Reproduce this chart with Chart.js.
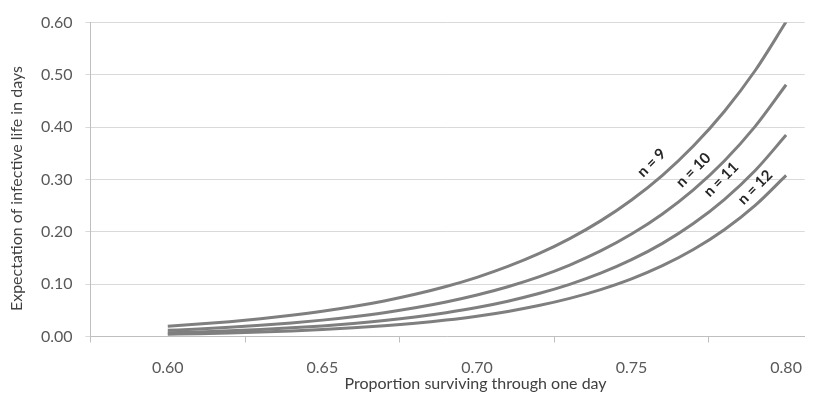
<!DOCTYPE html>
<html>
<head>
<meta charset="utf-8">
<script src="https://cdn.jsdelivr.net/npm/chart.js@4"></script>
<style>
  html, body { margin: 0; padding: 0; background: #fff; }
  #wrap { width: 818px; height: 400px; }
</style>
</head>
<body>
<div id="wrap"><canvas id="lifeChart" width="818" height="400"></canvas></div>
<script>
// proporcion que sobrevive un dia (eje X)
var survival = [0.60, 0.61, 0.62, 0.63, 0.64, 0.65, 0.66, 0.67, 0.68, 0.69, 0.70,
                0.71, 0.72, 0.73, 0.74, 0.75, 0.76, 0.77, 0.78, 0.79, 0.80];
// esperanza de vida infectiva (dias), una serie por n
var lifeN9  = [0.0197, 0.0237, 0.0283, 0.0338, 0.0404, 0.0481, 0.0572, 0.0679, 0.0806, 0.0955, 0.1131,
               0.1339, 0.1583, 0.1871, 0.2210, 0.2610, 0.3082, 0.3641, 0.4301, 0.5084, 0.6015];
var lifeN10 = [0.0118, 0.0144, 0.0176, 0.0213, 0.0258, 0.0313, 0.0378, 0.0455, 0.0548, 0.0659, 0.0792,
               0.0951, 0.1140, 0.1366, 0.1635, 0.1958, 0.2343, 0.2803, 0.3355, 0.4017, 0.4812];
var lifeN11 = [0.0071, 0.0088, 0.0109, 0.0134, 0.0165, 0.0203, 0.0249, 0.0305, 0.0373, 0.0455, 0.0554,
               0.0675, 0.0821, 0.0997, 0.1210, 0.1468, 0.1780, 0.2159, 0.2617, 0.3173, 0.3850];
var lifeN12 = [0.0043, 0.0054, 0.0068, 0.0085, 0.0106, 0.0132, 0.0165, 0.0204, 0.0253, 0.0314, 0.0388,
               0.0479, 0.0591, 0.0728, 0.0896, 0.1101, 0.1353, 0.1662, 0.2041, 0.2507, 0.3080];
var seriesNames = ['n = 9', 'n = 10', 'n = 11', 'n = 12'];
var xTickValues = [0.575, 0.60, 0.625, 0.65, 0.675, 0.70, 0.725, 0.75, 0.775, 0.80];
var yTickValues = [0.00, 0.10, 0.20, 0.30, 0.40, 0.50, 0.60];
var xTitle = 'Proportion surviving through one day';
var yTitle = 'Expectation of infective life in days';

// donde va cada etiqueta de curva (en unidades de los ejes)
var labelSpots = [[0.7565, 0.332], [0.7700, 0.318], [0.7790, 0.300], [0.7900, 0.285]];

function toPoints(ys) {
  return survival.map(function (x, i) { return { x: x, y: ys[i] }; });
}

var allSeries = [lifeN9, lifeN10, lifeN11, lifeN12];

// etiquetas inclinadas sobre las curvas + titulos de ejes
var curveLabels = {
  id: 'curveLabels',
  afterDatasetsDraw: function (chart) {
    var c = chart.ctx, xs = chart.scales.x, ys = chart.scales.y;
    var area = chart.chartArea;
    c.save();
    c.font = 'bold 15px Lato';
    c.fillStyle = '#262626';
    c.textAlign = 'center';
    c.textBaseline = 'middle';
    labelSpots.forEach(function (s, i) {
      c.save();
      c.translate(xs.getPixelForValue(s[0]), ys.getPixelForValue(s[1]));
      c.rotate(-Math.PI / 4);
      c.fillText(seriesNames[i], 0, 0);
      c.restore();
    });

    c.font = '16px Lato';
    c.fillStyle = '#404040';
    c.fillText(xTitle, (area.left + area.right) / 2 + 28, area.bottom + 47);
    c.save();
    c.translate(17, (area.top + area.bottom) / 2 + 9);
    c.rotate(-Math.PI / 2);
    c.fillText(yTitle, 0, 0);
    c.restore();
    c.restore();
  }
};

var ctx = document.getElementById('lifeChart').getContext('2d');
var lifeChart = new Chart(ctx, {
  type: 'line',
  data: {
    datasets: allSeries.map(function (ys, i) {
      return {
        label: seriesNames[i],
        data: toPoints(ys),
        borderColor: '#7f7f7f',
        borderWidth: 3,
        pointRadius: 0,
        fill: false,
        cubicInterpolationMode: 'monotone'
      };
    })
  },
  options: {
    responsive: false,
    animation: false,
    layout: { padding: { top: 17, right: 3, left: 0, bottom: 0 } },
    plugins: {
      legend: { display: false },
      tooltip: { enabled: false }
    },
    scales: {
      x: {
        type: 'linear',
        min: 0.575,
        max: 0.806,
        afterBuildTicks: function (axis) {
          axis.ticks = xTickValues.map(function (v) { return { value: v }; });
        },
        afterFit: function (axis) { axis.height = 63.5; },
        grid: {
          drawOnChartArea: false,
          drawTicks: true,
          tickLength: 6,
          color: function (context) {
            var v = context.tick ? context.tick.value : 0;
            return Math.abs(Math.round(v * 40) % 2) === 1 ? '#bfbfbf' : 'rgba(0,0,0,0)';
          }
        },
        border: { color: '#bfbfbf', width: 1 },
        ticks: {
          autoSkip: false,
          maxRotation: 0,
          padding: 16,
          color: '#595959',
          font: { family: 'Lato', size: 16 },
          callback: function (v) {
            return Math.round(v * 40) % 2 === 0 ? v.toFixed(2) : '';
          }
        },
        title: { display: false }
      },
      y: {
        min: 0,
        max: 0.6,
        afterBuildTicks: function (axis) {
          axis.ticks = yTickValues.map(function (v) { return { value: v }; });
        },
        afterFit: function (axis) { axis.width = 90.5; },
        grid: { color: '#d9d9d9', tickLength: 5 },
        border: { color: '#bfbfbf', width: 1 },
        ticks: {
          padding: 13,
          color: '#595959',
          font: { family: 'Lato', size: 16 },
          callback: function (v) { return v.toFixed(2); }
        },
        title: { display: false }
      }
    }
  },
  plugins: [curveLabels]
});
</script>
</body>
</html>
